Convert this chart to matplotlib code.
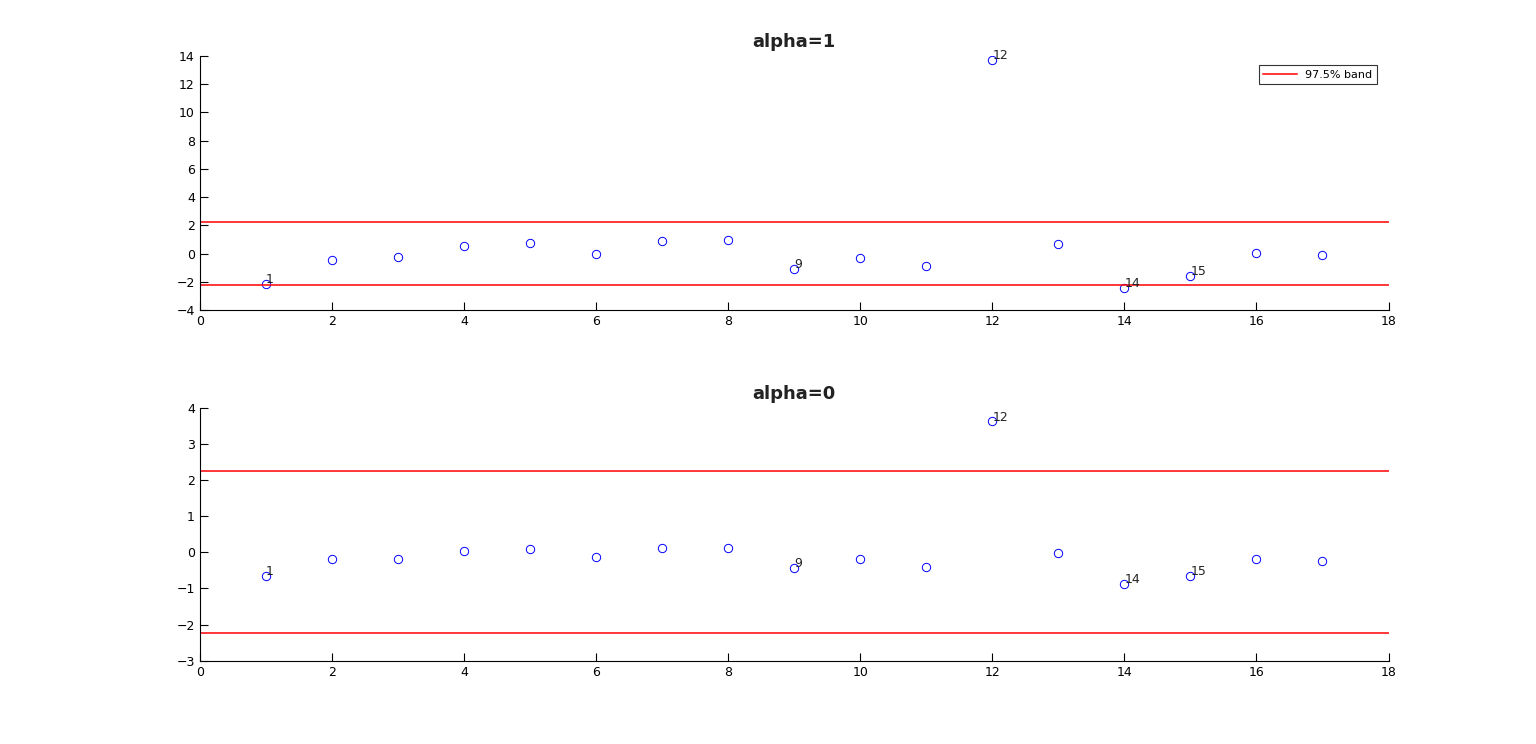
import matplotlib
matplotlib.use("Agg")
import matplotlib.pyplot as plt

x = list(range(1, 18))
y_alpha1 = [-2.13, -0.43, -0.2, 0.57, 0.78, 0.0, 0.92, 1.0, -1.06, -0.28, -0.85, 13.7, 0.7, -2.4, -1.56, 0.07, -0.07]
y_alpha0 = [-0.65, -0.18, -0.18, 0.04, 0.1, -0.12, 0.13, 0.13, -0.43, -0.2, -0.4, 3.62, -0.01, -0.87, -0.65, -0.2, -0.23]
band = 2.24
labeled = [1, 9, 12, 14, 15]

fig = plt.figure(figsize=(15.36, 7.44), dpi=100)
specs = [
    ("alpha=1", y_alpha1, [0.130, 0.583, 0.774, 0.342], (-4, 14), range(-4, 15, 2), True),
    ("alpha=0", y_alpha0, [0.130, 0.112, 0.774, 0.340], (-3, 4), range(-3, 5), False),
]
for title, ys, rect, ylim, yt, leg in specs:
    ax = fig.add_axes(rect)
    ax.plot(x, ys, 'o', mfc='none', mec='blue', ms=6, mew=0.7, ls='none')
    ax.axhline(band, color='red', lw=1.1, label='97.5% band')
    ax.axhline(-band, color='red', lw=1.1)
    for i in labeled:
        ax.annotate(str(i), (x[i-1], ys[i-1]), xytext=(0, 3), textcoords='offset points',
                    fontsize=9, va='center', ha='left', color='#222222')
    ax.set_xlim(0, 18)
    ax.set_ylim(*ylim)
    ax.set_xticks(range(0, 19, 2))
    ax.set_yticks(list(yt))
    ax.tick_params(direction='in', labelsize=9, length=6)
    ax.spines['top'].set_visible(False)
    ax.spines['right'].set_visible(False)
    ax.set_title(title, fontsize=13, fontweight='bold', color='#222222')
    if leg:
        l = ax.legend(loc='upper right', bbox_to_anchor=(0.995, 0.985), fontsize=8, fancybox=False,
                      edgecolor='black', handlelength=3)
        l.get_frame().set_linewidth(0.8)

fig.savefig("out.png", dpi=100)
